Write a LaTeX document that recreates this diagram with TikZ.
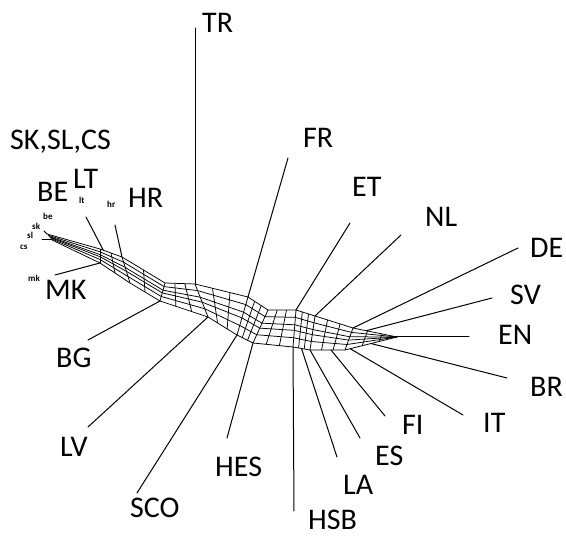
\documentclass[tikz,border=0pt]{standalone}
\usepackage{fontspec}
\setmainfont{Carlito}
\usetikzlibrary{calc}
\begin{document}
\begin{tikzpicture}[x=1pt,y=-1pt,
  lab/.style={font=\fontsize{30}{32}\selectfont, inner sep=0pt, anchor=base west},
  sm/.style={font=\fontsize{9}{10}\selectfont\bfseries, inner sep=0pt, anchor=base west},
  leaf/.style={line width=1pt, line cap=round},
  net/.style={line width=0.75pt, line join=round}]
\useasboundingbox (0,0) rectangle (566,540);
% stations of the network band: top (T) and bottom (B)
\foreach \n/\tx/\ty/\bx/\by in {0/47/234/52/240, 1/100/249/100/263, 2/122/257/130/283,
  3/165/283/160/301, 4/195/284/208/317, 5/248/297/237/335, 6/268/310/253/343,
  7/296/310/293/347, 8/315/316/310/350, 9/353/328/345/350, 10/397/337/397/337}{
  \coordinate (T\n) at (\tx,\ty);
  \coordinate (B\n) at (\bx,\by);
}
% longitudinal strands
\foreach \f in {0,0.2,0.4,0.55,0.75,1}{
  \draw[net] ($(T0)!\f!(B0)$) -- ($(T1)!\f!(B1)$) -- ($(T2)!\f!(B2)$) -- ($(T3)!\f!(B3)$)
    -- ($(T4)!\f!(B4)$) -- ($(T5)!\f!(B5)$) -- ($(T6)!\f!(B6)$) -- ($(T7)!\f!(B7)$)
    -- ($(T8)!\f!(B8)$) -- ($(T9)!\f!(B9)$) -- ($(T10)!\f!(B10)$);
}
% transversal splits (sparser on the left, denser in the middle)
\foreach \j in {1,...,9}{
  \draw[net] (T\j) -- (B\j);
}
\foreach \i/\j in {1/2,2/3}{
  \draw[net] ($(T\i)!0.5!(T\j)$) -- ($(B\i)!0.5!(B\j)$);
}
\foreach \i/\j in {3/4,4/5,5/6,6/7,7/8,8/9,9/10}{
  \foreach \t in {0.33,0.66}{
    \draw[net] ($(T\i)!\t!(T\j)$) -- ($(B\i)!\t!(B\j)$);
  }
}
% leaf end points
\coordinate (eTR) at (195,28);
\coordinate (eFR) at (288,158);
\coordinate (eET) at (350,223);
\coordinate (eNL) at (401,235);
\coordinate (eDE) at (518,248);
\coordinate (eSV) at (492,298);
\coordinate (eEN) at (469,337);
\coordinate (eBR) at (507,378);
\coordinate (eIT) at (463,415);
\coordinate (eFI) at (385,416);
\coordinate (eES) at (360,438);
\coordinate (eLA) at (337,457);
\coordinate (eHSB) at (294,511);
\coordinate (eHES) at (227,438);
\coordinate (eSCO) at (137,493);
\coordinate (eLV) at (88,427);
\coordinate (eBG) at (88,340);
\coordinate (eMK) at (55,275);
\coordinate (eLT) at (86,217);
\coordinate (eHR) at (115,225);
\coordinate (eSK) at (44,231);
\coordinate (eCS) at (42,240);
% attachment points
\coordinate (aLT) at ($(T1)!0.15!(T2)$);
\coordinate (aSV) at ($(T9)!0.3!(T10)$);
\coordinate (aBR) at ($(B9)!0.5!(B10)$);
\coordinate (aIT) at ($(B9)!0.1!(B10)$);
\coordinate (aFI) at ($(B8)!0.6!(B9)$);
\coordinate (aLA) at ($(B7)!0.5!(B8)$);
% leaf edges
\draw[leaf] (T4) -- (eTR);
\draw[leaf] (T5) -- (eFR);
\draw[leaf] (T7) -- (eET);
\draw[leaf] (T8) -- (eNL);
\draw[leaf] (T9) -- (eDE);
\draw[leaf] (aSV) -- (eSV);
\draw[leaf] (T10) -- (eEN);
\draw[leaf] (aBR) -- (eBR);
\draw[leaf] (aIT) -- (eIT);
\draw[leaf] (aFI) -- (eFI);
\draw[leaf] (B8) -- (eES);
\draw[leaf] (aLA) -- (eLA);
\draw[leaf] (B7) -- (eHSB);
\draw[leaf] (B6) -- (eHES);
\draw[leaf] (B5) -- (eSCO);
\draw[leaf] (B4) -- (eLV);
\draw[leaf] (B3) -- (eBG);
\draw[leaf] (B1) -- (eMK);
\draw[leaf] (aLT) -- (eLT);
\draw[leaf] (T2) -- (eHR);
\draw[leaf] (T0) -- (eSK);
\draw[leaf] (B0) -- (eCS);
% labels
\node[lab] (lTR) at (202,33) {TR};
\node[lab] (lFR) at (303,148) {FR};
\node[lab] (lET) at (352,197) {ET};
\node[lab] (lNL) at (425,227) {NL};
\node[lab] (lDE) at (530,258) {DE};
\node[lab] (lSV) at (510,305) {SV};
\node[lab] (lEN) at (498,345) {EN};
\node[lab] (lBR) at (530,397) {BR};
\node[lab] (lIT) at (483,433) {IT};
\node[lab] (lFI) at (402,435) {FI};
\node[lab] (lES) at (375,466) {ES};
\node[lab] (lLA) at (343,495) {LA};
\node[lab] (lHSB) at (308,530) {HSB};
\node[lab] (lHES) at (215,477) {HES};
\node[lab] (lSCO) at (130,518) {SCO};
\node[lab] (lLV) at (60,457) {LV};
\node[lab] (lBG) at (56,368) {BG};
\node[lab] (lMK) at (45,300) {MK};
\node[lab] (lHR) at (128,208) {HR};
\node[lab] (lBE) at (37,202) {BE};
\node[lab] (lLT) at (73,189) {LT};
\node[lab] (lSK) at (10,150) {SK,SL,CS};
\node[sm] (sbe) at (43,220) {be};
\node[sm] (ssk) at (32,230) {sk};
\node[sm] (ssl) at (27,239) {sl};
\node[sm] (scs) at (20,250) {cs};
\node[sm] (slt) at (79,204) {lt};
\node[sm] (shr) at (107,208) {hr};
\node[sm] (smk) at (28,282) {mk};
\end{tikzpicture}
\end{document}
